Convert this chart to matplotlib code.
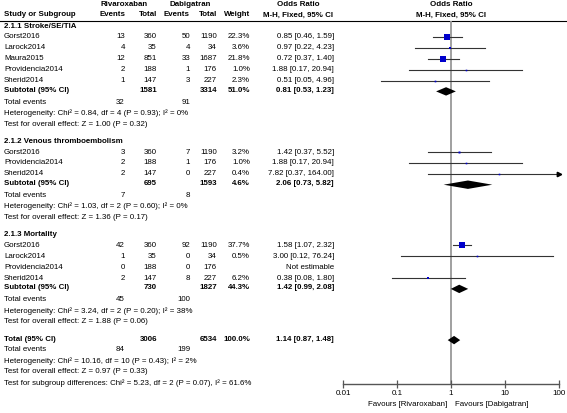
import numpy as np
import matplotlib.pyplot as plt
from matplotlib.ticker import NullLocator

plt.rcParams['font.family'] = ['Liberation Sans', 'DejaVu Sans']

# --- data ---
groups = ['2.1.1 Stroke/SE/TIA', '2.1.2 Venous thromboembolism', '2.1.3 Mortality']
studies = [
    ['Gorst2016', 'Larock2014', 'Maura2015', 'Providencia2014', 'Sherid2014'],
    ['Gorst2016', 'Providencia2014', 'Sherid2014'],
    ['Gorst2016', 'Larock2014', 'Providencia2014', 'Sherid2014'],
]
riva_events = [[13, 4, 12, 2, 1], [3, 2, 2], [42, 1, 0, 2]]
riva_total = [[360, 35, 851, 188, 147], [360, 188, 147], [360, 35, 188, 147]]
dabi_events = [[50, 4, 33, 1, 3], [7, 1, 0], [92, 0, 0, 8]]
dabi_total = [[1190, 34, 1687, 176, 227], [1190, 176, 227], [1190, 34, 176, 227]]
weights = [[22.3, 3.6, 21.8, 1.0, 2.3], [3.2, 1.0, 0.4], [37.7, 0.5, None, 6.2]]
odds = [[0.85, 0.97, 0.72, 1.88, 0.51], [1.42, 1.88, 7.82], [1.58, 3.00, None, 0.38]]
ci_low = [[0.46, 0.22, 0.37, 0.17, 0.05], [0.37, 0.17, 0.37], [1.07, 0.12, None, 0.08]]
ci_high = [[1.59, 4.23, 1.40, 20.94, 4.96], [5.52, 20.94, 164.00], [2.32, 76.24, None, 1.80]]

sub_riva_total = [1581, 695, 730]
sub_dabi_total = [3314, 1593, 1827]
sub_weight = [51.0, 4.6, 44.3]
sub_or = [0.81, 2.06, 1.42]
sub_low = [0.53, 0.73, 0.99]
sub_high = [1.23, 5.82, 2.08]
sub_riva_events = [32, 7, 45]
sub_dabi_events = [91, 8, 100]
het_chi = [0.84, 1.03, 3.24]
het_df = [4, 2, 2]
het_p = [0.93, 0.60, 0.20]
het_i2 = [0, 0, 38]
z_val = [1.00, 1.36, 1.88]
z_p = [0.32, 0.17, 0.06]

tot_riva_total, tot_dabi_total = 3006, 6534
tot_or, tot_low, tot_high = 1.14, 0.87, 1.48
tot_riva_events, tot_dabi_events = 84, 199
tot_het = (10.16, 10, 0.43, 2)
tot_z = (0.97, 0.33)
subgroup_diff = (5.23, 2, 0.07, 61.6)

ticks = [0.01, 0.1, 1, 10, 100]
tick_labels = ['0.01', '0.1', '1', '10', '100']

# --- layout (pixels) ---
W, H = 567, 413
fig = plt.figure(figsize=(W / 100, H / 100), dpi=100)
tx = fig.add_axes([0, 0, 1, 1])
tx.set_xlim(0, W)
tx.set_ylim(H, 0)
tx.axis('off')

axis_y = 384
fx = fig.add_axes([343 / W, (H - axis_y) / H, 216 / W, axis_y / H])
fx.set_xscale('log')
fx.set_xlim(0.01, 100)
fx.set_ylim(axis_y, 0)
fx.patch.set_alpha(0)
for s in ['top', 'left', 'right']:
    fx.spines[s].set_visible(False)
fx.spines['bottom'].set_color('#555555')
fx.spines['bottom'].set_linewidth(1.0)
fx.set_yticks([])
fx.set_xticks(ticks)
fx.set_xticklabels(tick_labels)
fx.xaxis.set_minor_locator(NullLocator())
fx.tick_params(axis='x', direction='inout', length=6, width=0.9, color='#555555',
               labelsize=5.8, pad=1.5)

FS = 5.7
c_ev1, c_tot1, c_ev2, c_tot2, c_w, c_or = 125, 157, 190, 217, 250, 334
x_name = 4
BLUE = '#0000cc'
LINE = '#333333'


def txt(x, y, s, ha='left', bold=False):
    tx.text(x, y, s, ha=ha, va='center', fontsize=FS,
            fontweight='bold' if bold else 'normal', color='black')


def diamond(o, lo, hi, y, h=4.2):
    fx.fill([lo, o, hi, o], [y, y - h, y, y + h], color='black', lw=0)


# headers
txt(124, 4, 'Rivaroxaban', ha='center', bold=True)
txt(190, 4, 'Dabigatran', ha='center', bold=True)
txt(298, 4, 'Odds Ratio', ha='center', bold=True)
txt(451, 4, 'Odds Ratio', ha='center', bold=True)
txt(x_name, 15, 'Study or Subgroup', bold=True)
txt(c_ev1, 15, 'Events', ha='right', bold=True)
txt(c_tot1, 15, 'Total', ha='right', bold=True)
txt(c_ev2, 15, 'Events', ha='right', bold=True)
txt(c_tot2, 15, 'Total', ha='right', bold=True)
txt(c_w, 15, 'Weight', ha='right', bold=True)
txt(298, 15, 'M-H, Fixed, 95% CI', ha='center', bold=True)
txt(451, 15, 'M-H, Fixed, 95% CI', ha='center', bold=True)
tx.plot([0, W], [20.5, 20.5], color='black', lw=0.8)
fx.vlines(1, 20.5, axis_y, color='#999999', lw=1.3, zorder=1)

row_h = 10.9
gap = 17.0
y = 26.0

for g in range(len(groups)):
    txt(x_name, y, groups[g], bold=True)
    y += row_h
    for i, name in enumerate(studies[g]):
        txt(x_name, y, name)
        txt(c_ev1, y, str(riva_events[g][i]), ha='right')
        txt(c_tot1, y, str(riva_total[g][i]), ha='right')
        txt(c_ev2, y, str(dabi_events[g][i]), ha='right')
        txt(c_tot2, y, str(dabi_total[g][i]), ha='right')
        o = odds[g][i]
        if o is None:
            txt(c_or, y, 'Not estimable', ha='right')
        else:
            lo, hi, w = ci_low[g][i], ci_high[g][i], weights[g][i]
            txt(c_w, y, f'{w:.1f}%', ha='right')
            txt(c_or, y, f'{o:.2f} [{lo:.2f}, {hi:.2f}]', ha='right')
            fx.plot([lo, min(hi, 100)], [y, y], color=LINE, lw=0.8, zorder=2)
            if hi > 100:
                fx.plot(100, y, '>', color='black', ms=3.2, clip_on=False, zorder=3)
            side = max(1.6, 1.1 * np.sqrt(w))
            fx.plot(o, y, 's', color=BLUE, ms=side * 0.72, mew=0, zorder=3)
        y += row_h
    ys = y - 1
    txt(x_name, ys, 'Subtotal (95% CI)', bold=True)
    txt(c_tot1, ys, str(sub_riva_total[g]), ha='right', bold=True)
    txt(c_tot2, ys, str(sub_dabi_total[g]), ha='right', bold=True)
    txt(c_w, ys, f'{sub_weight[g]:.1f}%', ha='right', bold=True)
    txt(c_or, ys, f'{sub_or[g]:.2f} [{sub_low[g]:.2f}, {sub_high[g]:.2f}]', ha='right', bold=True)
    diamond(sub_or[g], sub_low[g], sub_high[g], ys + 1)
    y += row_h
    txt(x_name, y, 'Total events')
    txt(c_ev1, y, str(sub_riva_events[g]), ha='right')
    txt(c_ev2, y, str(sub_dabi_events[g]), ha='right')
    y += row_h
    txt(x_name, y, f'Heterogeneity: Chi\u00b2 = {het_chi[g]:.2f}, df = {het_df[g]} '
        f'(P = {het_p[g]:.2f}); I\u00b2 = {het_i2[g]}%')
    y += row_h
    txt(x_name, y, f'Test for overall effect: Z = {z_val[g]:.2f} (P = {z_p[g]:.2f})')
    y += gap

# overall
y += 0.5
txt(x_name, y, 'Total (95% CI)', bold=True)
txt(c_tot1, y, str(tot_riva_total), ha='right', bold=True)
txt(c_tot2, y, str(tot_dabi_total), ha='right', bold=True)
txt(c_w, y, '100.0%', ha='right', bold=True)
txt(c_or, y, f'{tot_or:.2f} [{tot_low:.2f}, {tot_high:.2f}]', ha='right', bold=True)
diamond(tot_or, tot_low, tot_high, y + 1)
y += row_h
txt(x_name, y, 'Total events')
txt(c_ev1, y, str(tot_riva_events), ha='right')
txt(c_ev2, y, str(tot_dabi_events), ha='right')
y += row_h
txt(x_name, y, f'Heterogeneity: Chi\u00b2 = {tot_het[0]:.2f}, df = {tot_het[1]} '
    f'(P = {tot_het[2]:.2f}); I\u00b2 = {tot_het[3]}%')
y += row_h
txt(x_name, y, f'Test for overall effect: Z = {tot_z[0]:.2f} (P = {tot_z[1]:.2f})')
y += row_h
txt(x_name, y, f'Test for subgroup differences: Chi\u00b2 = {subgroup_diff[0]:.2f}, '
    f'df = {subgroup_diff[1]} (P = {subgroup_diff[2]:.2f}), I\u00b2 = {subgroup_diff[3]:.1f}%')

txt(447, 404, 'Favours [Rivaroxaban]', ha='right')
txt(455, 404, 'Favours [Dabigatran]')

fig.savefig('out.png', dpi=100)
